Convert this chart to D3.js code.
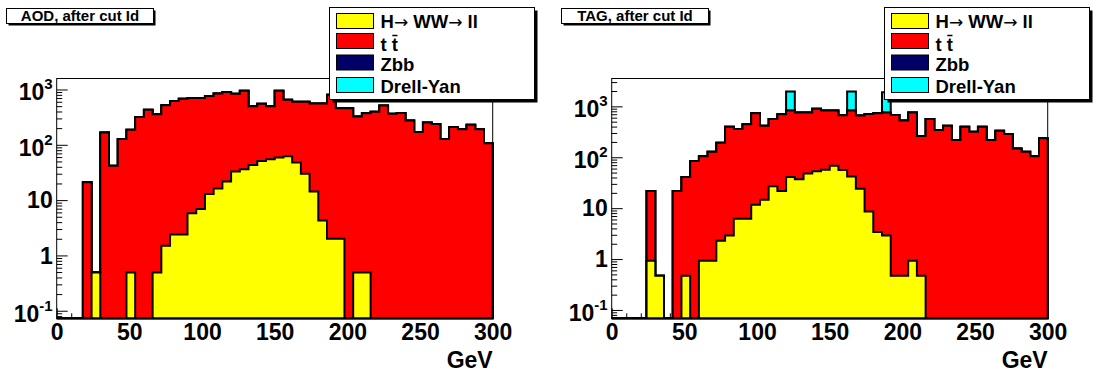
<!DOCTYPE html>
<html>
<head>
<meta charset="utf-8">
<script src="https://cdn.jsdelivr.net/npm/d3@7"></script>
<style>
  body { margin: 0; background: #fff; }
  svg text { font-family: "Liberation Sans", Arial, Helvetica, sans-serif; font-weight: bold; fill: #000; }
</style>
</head>
<body>
<div id="chart"></div>
<script>
// 50 bins of 6 GeV, 0 - 300 GeV
var xRange = [0, 300];
var nBins = 50;
var xTicks = [0, 50, 100, 150, 200, 250, 300];
var yTicks = [0.1, 1, 10, 100, 1000];
var yTickLabels = [["10", "-1"], ["1", ""], ["10", ""], ["10", "2"], ["10", "3"]];
var xTitle = "GeV";
var panelTitles = ["AOD, after cut Id", "TAG, after cut Id"];
var seriesNames = ["H\u2192 WW\u2192 ll", "t t", "Zbb", "Drell-Yan"];

// AOD
var aodHWW = [0, 0, 0, 0, 0.49, 0, 0, 0, 0.49, 0,
  0, 0.49, 1.5, 2.4, 2.4, 5.8, 6.9, 12.9, 16.2, 21.7,
  33, 36, 43, 51, 55, 59, 62, 48, 30, 14.3,
  4.3, 2.0, 2.0, 0, 0.49, 0.49, 0, 0, 0, 0,
  0, 0, 0, 0, 0, 0, 0, 0, 0, 0];
var aodTT = [0, 0, 0, 21, 0, 167, 42, 127, 186, 317,
  429, 358, 518, 618, 678, 694, 693, 747, 834, 878,
  807, 914, 457, 499, 445, 891, 588, 552, 570, 546,
  556, 798, 458, 460, 325, 373, 395, 513, 363, 374,
  274, 170, 253, 237, 127, 209, 192, 230, 192, 107];
var aodZbb = [0, 0, 0, 0, 0, 0, 0, 0, 0, 0,
  0, 0, 0, 0, 0, 0, 0, 0, 0, 0,
  0, 0, 0, 0, 0, 0, 0, 0, 0, 0,
  0, 0, 0, 0, 0, 0, 0, 0, 0, 0,
  0, 0, 0, 0, 0, 0, 0, 0, 0, 0];
var aodDY = [0, 0, 0, 0, 0, 0, 0, 0, 0, 0,
  0, 0, 0, 0, 0, 0, 0, 0, 0, 0,
  0, 0, 0, 0, 0, 0, 0, 0, 0, 0,
  0, 0, 0, 0, 0, 0, 0, 0, 0, 0,
  0, 0, 0, 0, 0, 0, 0, 0, 0, 0];

// TAG
var tagHWW = [0, 0, 0, 0, 0.93, 0.47, 0, 0, 0.47, 0,
  0.93, 0.93, 2.3, 2.9, 6.2, 6.2, 11.7, 14.7, 26.8, 21.7,
  41, 37, 48, 53, 57, 68, 56, 42, 24, 8.6,
  3.4, 2.9, 0.47, 0.47, 0.93, 0.47, 0, 0, 0, 0,
  0, 0, 0, 0, 0, 0, 0, 0, 0, 0];
var tagTT = [0, 0, 0, 0, 20.8, 0, 0, 21.7, 40.5, 84,
  104, 127, 191, 395, 353, 439, 721, 402, 539, 680,
  785, 717, 706, 840, 769, 758, 614, 784, 636, 702,
  730, 751, 679, 524, 753, 261, 566, 343, 417, 218,
  398, 318, 398, 218, 333, 286, 149, 128, 105, 235];
var tagZbb = [0, 0, 0, 0, 0, 0, 0, 0, 0, 0,
  0, 0, 0, 0, 0, 0, 0, 0, 0, 0,
  0, 0, 0, 0, 0, 0, 0, 0, 0, 0,
  0, 0, 0, 0, 0, 0, 0, 0, 0, 0,
  0, 0, 0, 0, 0, 0, 0, 0, 0, 0];
var tagDY = [0, 0, 0, 0, 0, 0, 0, 0, 0, 0,
  0, 0, 0, 0, 0, 0, 0, 0, 0, 0,
  1130, 0, 0, 0, 0, 0, 0, 1130, 0, 0,
  0, 1130, 0, 0, 0, 0, 0, 0, 0, 0,
  0, 0, 0, 0, 0, 0, 0, 0, 0, 0];

var colors = ["#ffff00", "#ff0000", "#000066", "#00ffff"];

var svgWidth = 1096, svgHeight = 378;
var frame = { left: 56.7, right: 492.7, top: 78.5, bottom: 318.3 };

var panels = [
  { ox: 0, title: panelTitles[0], yDomain: [0.073, 1580], series: [aodHWW, aodTT, aodZbb, aodDY] },
  { ox: 555, title: panelTitles[1], yDomain: [0.0686, 3525], series: [tagHWW, tagTT, tagZbb, tagDY] }
];

var svg = d3.select("#chart").append("svg")
  .attr("width", svgWidth)
  .attr("height", svgHeight);

var binWidth = (xRange[1] - xRange[0]) / nBins;

panels.forEach(function(p, pi) {
  var g = svg.append("g").attr("transform", `translate(${p.ox},0)`);

  var x = d3.scaleLinear().domain(xRange).range([frame.left, frame.right]);
  var y = d3.scaleLog().domain(p.yDomain).range([frame.bottom, frame.top]);
  var ymin = p.yDomain[0];

  // frame
  g.append("rect")
    .attr("x", frame.left).attr("y", frame.top)
    .attr("width", frame.right - frame.left).attr("height", frame.bottom - frame.top)
    .attr("fill", "none").attr("stroke", "#000").attr("stroke-width", 1);

  // x axis ticks (under the histograms)
  var minorX = d3.range(xRange[0], xRange[1] + 1, 10).filter(v => xTicks.indexOf(v) < 0);
  g.append("g").attr("transform", `translate(0,${frame.bottom})`)
    .call(d3.axisBottom(x).tickValues(minorX).tickSize(-5).tickFormat(""))
    .call(a => a.select(".domain").remove());
  var xAxis = g.append("g").attr("transform", `translate(0,${frame.bottom})`)
    .call(d3.axisBottom(x).tickValues(xTicks).tickSize(-10).tickPadding(5).tickFormat(d3.format("d")));
  xAxis.select(".domain").remove();
  xAxis.selectAll("text").attr("font-size", 23).style("font-family", null);

  // y axis ticks
  var minorY = [];
  for (var e = -2; e <= 4; e++) {
    for (var m = 2; m <= 9; m++) {
      var v = m * Math.pow(10, e);
      if (v > p.yDomain[0] && v < p.yDomain[1]) minorY.push(v);
    }
  }
  g.append("g").attr("transform", `translate(${frame.left},0)`)
    .call(d3.axisLeft(y).tickValues(minorY).tickSize(-5.5).tickFormat(""))
    .call(a => a.select(".domain").remove());
  g.append("g").attr("transform", `translate(${frame.left},0)`)
    .call(d3.axisLeft(y).tickValues(yTicks).tickSize(-11).tickFormat(""))
    .call(a => a.select(".domain").remove());

  // y labels
  yTicks.forEach(function(t, i) {
    var lab = yTickLabels[i];
    var txt = g.append("text")
      .attr("x", frame.left - 4)
      .attr("y", y(t) + (lab[1] ? 11 : 8.3))
      .attr("text-anchor", "end")
      .attr("font-size", 23);
    txt.append("tspan").text(lab[0]);
    if (lab[1]) {
      txt.append("tspan").attr("font-size", 15).attr("dy", -11).text(lab[1]);
    }
  });

  // stacked histograms (cumulative, drawn from the top one down)
  var cum = [];
  p.series.forEach(function(s, si) {
    cum.push(s.map((v, i) => v + (si > 0 ? cum[si - 1][i] : 0)));
  });

  var clipId = "clip" + pi;
  g.append("clipPath").attr("id", clipId).append("rect")
    .attr("x", frame.left - 2).attr("y", frame.top)
    .attr("width", frame.right - frame.left + 4).attr("height", frame.bottom - frame.top + 2);

  var line = d3.line().x(d => d[0]).y(d => d[1]);
  var hg = g.append("g").attr("clip-path", `url(#${clipId})`);
  for (var si = cum.length - 1; si >= 0; si--) {
    var pts = [[x(xRange[0]), y(ymin)]];
    cum[si].forEach(function(v, i) {
      var yy = y(Math.max(v, ymin));
      pts.push([x(xRange[0] + i * binWidth), yy]);
      pts.push([x(xRange[0] + (i + 1) * binWidth), yy]);
    });
    pts.push([x(xRange[1]), y(ymin)]);
    hg.append("path")
      .attr("d", line(pts) + "Z")
      .attr("fill", colors[si])
      .attr("stroke", "#000")
      .attr("stroke-width", 2)
      .attr("stroke-linejoin", "miter");
  }

  // x title
  g.append("text")
    .attr("x", frame.right).attr("y", 368)
    .attr("text-anchor", "end")
    .attr("font-size", 23)
    .text(xTitle);

  // title box
  var tb = { x: 6.5, y: 8.5, w: 147, h: 15 };
  g.append("rect").attr("x", tb.x + 2).attr("y", tb.y + 2).attr("width", tb.w).attr("height", tb.h).attr("fill", "#000");
  g.append("rect").attr("x", tb.x).attr("y", tb.y).attr("width", tb.w).attr("height", tb.h)
    .attr("fill", "#fff").attr("stroke", "#000").attr("stroke-width", 1);
  g.append("text")
    .attr("x", tb.x + tb.w / 2).attr("y", tb.y + tb.h - 2.5)
    .attr("text-anchor", "middle")
    .attr("font-size", 15)
    .text(p.title);

  // legend
  var lg = { x: 329.5, y: 7.5, w: 205, h: 92 };
  g.append("rect").attr("x", lg.x + 3).attr("y", lg.y + 3).attr("width", lg.w).attr("height", lg.h).attr("fill", "#000");
  g.append("rect").attr("x", lg.x).attr("y", lg.y).attr("width", lg.w).attr("height", lg.h)
    .attr("fill", "#fff").attr("stroke", "#000").attr("stroke-width", 1);
  var centers = [21, 41, 62.5, 85];
  var textOff = [7, 9.5, 8, 7.5];
  seriesNames.forEach(function(name, i) {
    g.append("rect")
      .attr("x", lg.x + 7).attr("y", centers[i] - 7.5)
      .attr("width", 37).attr("height", 15)
      .attr("fill", colors[i]).attr("stroke", "#000").attr("stroke-width", 1);
    var t = g.append("text")
      .attr("x", lg.x + 51).attr("y", centers[i] + textOff[i])
      .attr("font-size", 18.5);
    // arrows in a thinner symbol face, like ROOT's #rightarrow
    name.split("\u2192").forEach(function(part, k) {
      if (k > 0) {
        t.append("tspan")
          .style("font-family", "'DejaVu Sans', sans-serif")
          .style("font-weight", "normal")
          .attr("font-size", 17)
          .text("\u2192");
      }
      t.append("tspan").text(part);
    });
    if (i === 1) {
      // bar over the second t
      var full = t.node().getComputedTextLength();
      var tw = t.node().getSubStringLength(name.length - 1, 1);
      var x1 = lg.x + 51 + full - tw;
      g.append("line")
        .attr("x1", x1 + 0.5).attr("x2", x1 + tw - 0.5)
        .attr("y1", centers[i] + textOff[i] - 15).attr("y2", centers[i] + textOff[i] - 15)
        .attr("stroke", "#000").attr("stroke-width", 1.5);
    }
  });
});
</script>
</body>
</html>
